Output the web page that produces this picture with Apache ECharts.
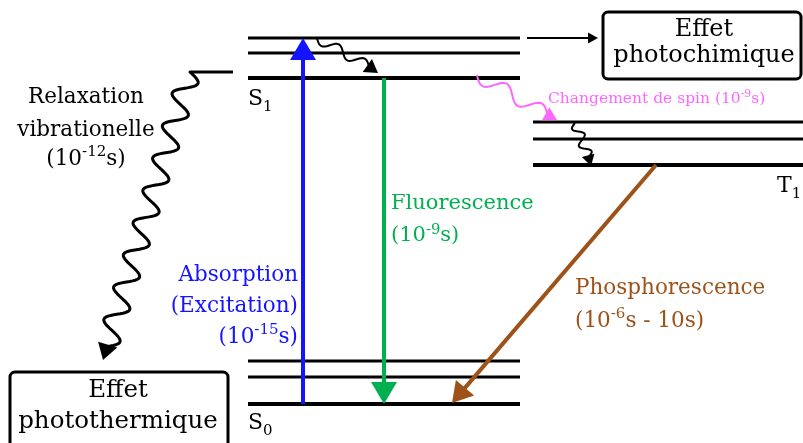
<!DOCTYPE html>
<html><head><meta charset="utf-8">
<script src="https://cdn.jsdelivr.net/npm/echarts@6/dist/echarts.min.js"></script>
<style>html,body{margin:0;padding:0;background:#fff}#c{width:803px;height:443px}</style>
</head><body><div id="c"></div>
<script>
// ---------- Diagram data (diagram units: x across, y downward) ----------
const singletSpan = [248, 520];
const tripletSpan = [533, 803];
const levelsS1 = [38, 53, 78];
const levelsS0 = [361, 377, 404];
const levelsT1 = [122, 139, 165];

// Radiative / straight transitions: [x0, y0, xTip, yTip]
const absorption = [303, 404, 303, 38];
const fluorescence = [384, 78, 384, 404];
const phosphorescence = [656, 165, 452, 403];
const toPhotochem = [527, 38, 598, 38];

// Non-radiative (wavy) transitions: [x0, y0, xTip, yTip]
const relaxS1 = [317, 38, 378, 73];
const relaxT1 = [575, 123, 591, 166];
const isc = [477, 75, 557, 120];
const relaxBig = [233, 72, 103, 360];

// Boxes: [x0, y0, x1, y1]
const boxPhotochem = [603, 12, 801, 79];
const boxPhototherm = [10, 372, 228, 470];

// Texts
const stateNames = ['S\u2081', 'S\u2080', 'T\u2081'];
const textRelax = ['Relaxation', 'vibrationelle', '(10\u207B\u00B9\u00B2s)'];
const textAbs = ['Absorption', '(Excitation)', '(10\u207B\u00B9\u2075s)'];
const textFluo = ['Fluorescence', '(10\u207B\u2079s)'];
const textPhos = ['Phosphorescence', '(10\u207B\u2076s - 10s)'];
const textIsc = ['Changement de spin (10\u207B\u2079s)'];
const textPhotochem = ['Effet', 'photochimique'];
const textPhototherm = ['Effet', 'photothermique'];

// ---------- Styles / layout ----------
const FONT = '"DejaVu Serif", "Liberation Serif", serif';
const BLUE = '#1414ff', GREEN = '#00b050', BROWN = '#9c5218', PINK = '#ff66ff', BLACK = '#000';

const arrowStyles = [
  {color: BLUE, lw: 4, len: 22, wid: 26},
  {color: GREEN, lw: 4, len: 22, wid: 26},
  {color: BROWN, lw: 4, len: 20, wid: 24},
  {color: BLACK, lw: 2, len: 10, wid: 11}
];
const waveStyles = [
  {color: BLACK, lw: 2, dir: 35, len: 13, wid: 16, amp: 5, n: 2},
  {color: BLACK, lw: 2, dir: 75, len: 11, wid: 13, amp: 5, n: 2},
  {color: PINK, lw: 2, dir: 29, len: 13, wid: 15, amp: 7, n: 2},
  {color: BLACK, lw: 3, dir: 107, len: 16, wid: 20, amp: -11, n: 8.5, lead: [-43, 0]}
];

// text layout: [groupTexts, color, size, align, x, [y...]]
const textLayout = [
  [textRelax, BLACK, 21.5, 'center', 86, [97, 130, 159]],
  [textAbs, BLUE, 21.5, 'right', 298, [275, 306, 337]],
  [textFluo, GREEN, 21, 'left', 391, [204, 236]],
  [textPhos, BROWN, 21.5, 'left', 575, [288, 321]],
  [textIsc, PINK, 15.5, 'left', 548, [99]],
  [textPhotochem, BLACK, 24, 'center', 704, [30, 56]],
  [textPhototherm, BLACK, 24.5, 'center', 118, [391, 422]],
  [[stateNames[0]], BLACK, 22, 'left', 248, [99]],
  [[stateNames[1]], BLACK, 22, 'left', 248, [423]],
  [[stateNames[2]], BLACK, 22, 'left', 777, [186]]
];

// convert unicode super/subscripts to rich-text runs
const SUP = {'\u207B': '-', '\u00B9': '1', '\u00B2': '2', '\u00B3': '3', '\u2074': '4', '\u2075': '5', '\u2076': '6', '\u2077': '7', '\u2078': '8', '\u2079': '9', '\u2070': '0'};
const SUB = {'\u2080': '0', '\u2081': '1', '\u2082': '2'};
function toRich(str) {
  let out = '', cur = null, buf = '';
  const flush = () => { if (buf) out += '{' + cur + '|' + buf + '}'; buf = ''; };
  for (const ch of str) {
    const kind = SUP[ch] ? 'sup' : (SUB[ch] ? 'sub' : 'n');
    if (kind !== cur) { flush(); cur = kind; }
    buf += SUP[ch] || SUB[ch] || ch;
  }
  flush();
  return out;
}

// ---------- build series data ----------
function levelRows(span, ys) { return ys.map((y, i) => [span[0], span[1], y, ys.length - 1 - i]); }
const levelData = [].concat(levelRows(singletSpan, levelsS1), levelRows(singletSpan, levelsS0), levelRows(tripletSpan, levelsT1));
const arrowData = [absorption, fluorescence, phosphorescence, toPhotochem];
const waveData = [relaxS1, relaxT1, isc, relaxBig];
const boxData = [boxPhotochem, boxPhototherm];
const textData = [], textMeta = [];
textLayout.forEach(g => {
  g[0].forEach((t, k) => { textData.push([g[4], g[5][k]]); textMeta.push({t: t, color: g[1], size: g[2], align: g[3]}); });
});

function head(tip, ang, len, wid) {
  const ux = Math.cos(ang), uy = Math.sin(ang);
  const bx = tip[0] - ux * len, by = tip[1] - uy * len;
  const px = -uy * wid / 2, py = ux * wid / 2;
  return {base: [bx, by], pts: [tip, [bx + px, by + py], [bx - px, by - py]]};
}

const chart = echarts.init(document.getElementById('c'), null, {renderer: 'canvas'});
chart.setOption({
  animation: false,
  backgroundColor: '#fff',
  grid: {left: 0, right: 0, top: 0, bottom: 0},
  xAxis: {type: 'value', min: 0, max: 803, show: false},
  yAxis: {type: 'value', min: 0, max: 443, inverse: true, show: false},
  series: [
    {
      type: 'custom', clip: false, z: 2, data: levelData,
      renderItem: function (params, api) {
        const a = api.coord([api.value(0), api.value(2)]);
        const b = api.coord([api.value(1), api.value(2)]);
        return {type: 'line', shape: {x1: a[0], y1: a[1], x2: b[0], y2: b[1]},
          style: {stroke: BLACK, lineWidth: api.value(3) === 0 ? 4 : 3}};
      }
    },
    {
      type: 'custom', clip: false, z: 3, data: boxData,
      renderItem: function (params, api) {
        const a = api.coord([api.value(0), api.value(1)]);
        const b = api.coord([api.value(2), api.value(3)]);
        return {type: 'rect', shape: {x: a[0], y: a[1], width: b[0] - a[0], height: b[1] - a[1], r: 5},
          style: {fill: '#fff', stroke: BLACK, lineWidth: 3}};
      }
    },
    {
      type: 'custom', clip: false, z: 4, data: arrowData,
      renderItem: function (params, api) {
        const s = arrowStyles[params.dataIndex];
        const p0 = api.coord([api.value(0), api.value(1)]);
        const p1 = api.coord([api.value(2), api.value(3)]);
        const ang = Math.atan2(p1[1] - p0[1], p1[0] - p0[0]);
        const h = head(p1, ang, s.len, s.wid);
        return {type: 'group', children: [
          {type: 'line', shape: {x1: p0[0], y1: p0[1], x2: h.base[0] + Math.cos(ang) * 2, y2: h.base[1] + Math.sin(ang) * 2},
            style: {stroke: s.color, lineWidth: s.lw}},
          {type: 'polygon', shape: {points: h.pts}, style: {fill: s.color}}
        ]};
      }
    },
    {
      type: 'custom', clip: false, z: 5, data: waveData,
      renderItem: function (params, api) {
        const s = waveStyles[params.dataIndex];
        const p0 = api.coord([api.value(0), api.value(1)]);
        const tip = api.coord([api.value(2), api.value(3)]);
        const ang = s.dir * Math.PI / 180;
        const h = head(tip, ang, s.len, s.wid);
        const pts = [p0];
        let ws = p0;
        if (s.lead) { ws = [p0[0] + s.lead[0], p0[1] + s.lead[1]]; pts.push(ws); }
        const we = [h.base[0] + Math.cos(ang) * 2, h.base[1] + Math.sin(ang) * 2];
        const dx = we[0] - ws[0], dy = we[1] - ws[1], L = Math.hypot(dx, dy);
        const nx = -dy / L, ny = dx / L;
        const steps = Math.max(40, Math.round(s.n * 24));
        for (let i = 1; i <= steps; i++) {
          const t = i / steps, o = s.amp * Math.sin(2 * Math.PI * s.n * t);
          pts.push([ws[0] + dx * t + nx * o, ws[1] + dy * t + ny * o]);
        }
        return {type: 'group', children: [
          {type: 'polyline', shape: {points: pts}, style: {stroke: s.color, lineWidth: s.lw, fill: null, lineJoin: 'round'}},
          {type: 'polygon', shape: {points: h.pts}, style: {fill: s.color}}
        ]};
      }
    },
    {
      type: 'custom', clip: false, z: 6, data: textData,
      renderItem: function (params, api) {
        const m = textMeta[params.dataIndex];
        const p = api.coord([api.value(0), api.value(1)]);
        const s = m.size;
        const hasSub = /[\u2080-\u2089]/.test(m.t);
        const rich = {
          n: {fontSize: s, fontFamily: FONT, fill: m.color, lineHeight: (hasSub ? 1.4 : 1.3) * s, verticalAlign: 'middle'},
          sup: {fontSize: 0.7 * s, fontFamily: FONT, fill: m.color, lineHeight: 0.78 * s, verticalAlign: 'top'},
          sub: {fontSize: 0.68 * s, fontFamily: FONT, fill: m.color, lineHeight: 0.45 * s, verticalAlign: 'bottom'}
        };
        return {type: 'text', x: p[0], y: p[1],
          style: {text: toRich(m.t), rich: rich, fill: m.color, font: s + 'px ' + FONT,
            textAlign: m.align, textVerticalAlign: 'middle', align: m.align, verticalAlign: 'middle'}};
      }
    }
  ]
});
</script>
</body></html>
